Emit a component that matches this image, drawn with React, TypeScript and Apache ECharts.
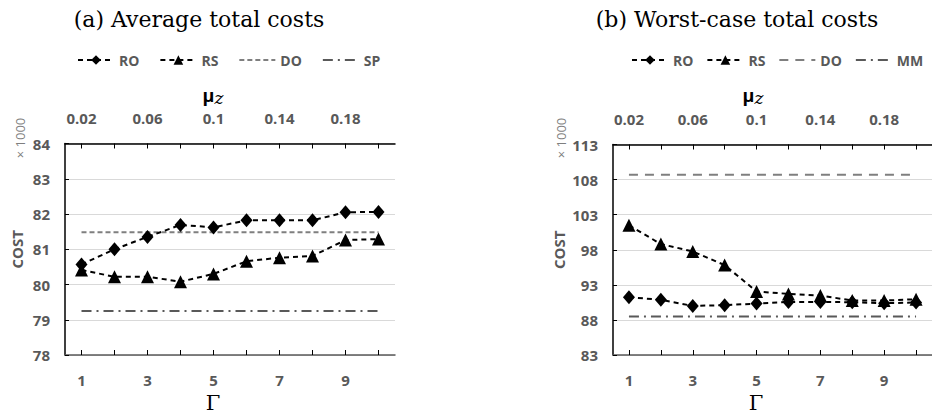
import React, { useEffect, useRef } from 'react';
import * as echarts from 'echarts';

const gammaLabels = ['1', '2', '3', '4', '5', '6', '7', '8', '9', '10'];
const muLabels = ['0.02', '0.04', '0.06', '0.08', '0.1', '0.12', '0.14', '0.16', '0.18', '0.2'];

const avgRO = [80.57, 81.0, 81.35, 81.69, 81.62, 81.82, 81.82, 81.82, 82.05, 82.06];
const avgRS = [80.41, 80.22, 80.22, 80.08, 80.3, 80.66, 80.76, 80.81, 81.26, 81.29];
const avgDO = [81.48, 81.48, 81.48, 81.48, 81.48, 81.48, 81.48, 81.48, 81.48, 81.48];
const avgSP = [79.25, 79.25, 79.25, 79.25, 79.25, 79.25, 79.25, 79.25, 79.25, 79.25];

const worstRO = [91.24, 90.86, 90.0, 90.1, 90.33, 90.57, 90.57, 90.52, 90.38, 90.48];
const worstRS = [101.48, 98.81, 97.76, 95.81, 92.05, 91.71, 91.48, 90.76, 90.76, 90.95];
const worstDO = [108.7, 108.7, 108.7, 108.7, 108.7, 108.7, 108.7, 108.7, 108.7, 108.7];
const worstMM = [88.48, 88.48, 88.48, 88.48, 88.48, 88.48, 88.48, 88.48, 88.48, 88.48];

const GRAY = '#595959';
const SANS = "'Open Sans', 'Noto Sans', sans-serif";
const SERIF = "'DejaVu Serif', serif";

function xAxes(gridIndex: number) {
  const common = {
    type: 'category' as const,
    gridIndex,
    boundaryGap: true,
    axisLine: { show: true, lineStyle: { color: GRAY, width: 1.5 } },
    axisTick: { show: true, inside: true, length: 5, alignWithLabel: true, interval: 0, lineStyle: { color: '#000', width: 1 } },
    axisLabel: { interval: 1, color: GRAY, fontFamily: SANS, fontWeight: 'bold' as const, fontSize: 15, margin: 17 },
    splitLine: { show: false },
  };
  return [
    { ...common, position: 'bottom' as const, data: gammaLabels },
    { ...common, position: 'top' as const, data: muLabels, axisLabel: { ...common.axisLabel, margin: 18 }, axisLine: { show: true, lineStyle: { color: '#000', width: 1.5 } } },
  ];
}

function yAxis(gridIndex: number, min: number, max: number, interval: number, nameGap: number) {
  return {
    type: 'value' as const,
    gridIndex,
    min,
    max,
    interval,
    name: 'COST',
    nameLocation: 'middle' as const,
    nameGap,
    nameTextStyle: { color: GRAY, fontFamily: SANS, fontWeight: 'bold' as const, fontSize: 15 },
    axisLine: { show: true, lineStyle: { color: '#000', width: 1.5 } },
    axisTick: { show: true, inside: true, length: 4, lineStyle: { color: '#000' } },
    axisLabel: { color: GRAY, fontFamily: SANS, fontWeight: 'bold' as const, fontSize: 15, margin: 15 },
    splitLine: { show: true, lineStyle: { color: '#d9d9d9', width: 1 } },
  };
}

function markerSeries(name: string, data: number[], symbol: string, size: number | number[], xAxisIndex: number, yAxisIndex: number) {
  return {
    name,
    type: 'line' as const,
    data,
    xAxisIndex,
    yAxisIndex,
    symbol,
    symbolSize: size,
    showSymbol: true,
    itemStyle: { color: '#000' },
    lineStyle: { color: '#000', width: 2, type: [5, 4] },
    z: 5,
  };
}

function flatSeries(name: string, data: number[], color: string, dash: number[], xAxisIndex: number, yAxisIndex: number) {
  return {
    name,
    type: 'line' as const,
    data,
    xAxisIndex,
    yAxisIndex,
    symbol: 'none',
    itemStyle: { color },
    lineStyle: { color, width: 2, type: dash },
    z: 3,
  };
}

const legendText = { color: GRAY, fontFamily: SANS, fontWeight: 'bold' as const, fontSize: 14 };
const hiddenSymbol = { color: 'rgba(0,0,0,0)', borderColor: 'rgba(0,0,0,0)', borderWidth: 0, opacity: 0 };

export default function App() {
  const ref = useRef<HTMLDivElement>(null);
  useEffect(() => {
    if (!ref.current) return;
    const chart = echarts.init(ref.current, undefined, { renderer: 'svg' });
    const xa0 = xAxes(0);
    const xa1 = xAxes(1);
    const center = { align: 'center', verticalAlign: 'middle', textAlign: 'center', textVerticalAlign: 'middle' };
    chart.setOption({
      animation: false,
      backgroundColor: '#fff',
      grid: [
        { left: 65, top: 143.5, width: 330, height: 211.5, containLabel: false },
        { left: 613, top: 144.5, width: 324, height: 210.5, containLabel: false },
      ],
      xAxis: [xa0[0], xa0[1], xa1[0], xa1[1]],
      yAxis: [yAxis(0, 78, 84, 1, 41), yAxis(1, 83, 113, 5, 47)],
      legend: [
        {
          left: 77,
          top: 53,
          padding: 0,
          width: 340,
          itemWidth: 36,
          itemHeight: 12,
          itemGap: 20,
          textStyle: legendText,
          data: ['RO', 'RS', { name: 'DO', itemStyle: hiddenSymbol }, { name: 'SP', itemStyle: hiddenSymbol }],
          formatter: (n: string) => n,
        },
        {
          left: 631,
          top: 53,
          padding: 0,
          width: 300,
          itemWidth: 36,
          itemHeight: 12,
          itemGap: 13,
          textStyle: legendText,
          data: ['RO ', 'RS ', { name: 'DO ', itemStyle: hiddenSymbol }, { name: 'MM', itemStyle: hiddenSymbol }],
          formatter: (n: string) => n.trim(),
        },
      ],
      series: [
        flatSeries('DO', avgDO, '#7f7f7f', [5, 3], 0, 0),
        flatSeries('SP', avgSP, GRAY, [10, 5, 2, 5], 0, 0),
        markerSeries('RO', avgRO, 'diamond', [12, 14], 0, 0),
        markerSeries('RS', avgRS, 'triangle', 13, 0, 0),
        flatSeries('DO ', worstDO, '#7f7f7f', [9, 7], 2, 1),
        flatSeries('MM', worstMM, GRAY, [10, 5, 2, 5], 2, 1),
        markerSeries('RO ', worstRO, 'diamond', [12, 14], 2, 1),
        markerSeries('RS ', worstRS, 'triangle', 13, 2, 1),
      ],
      graphic: [
        { type: 'text', x: 199, y: 19, style: { text: '(a) Average total costs', font: `22px ${SERIF}`, fill: '#000', ...center } },
        { type: 'text', x: 737, y: 19, style: { text: '(b) Worst-case total costs', font: `22px ${SERIF}`, fill: '#000', ...center } },
        {
          type: 'text', x: 213, y: 95,
          style: {
            text: '{m|μ}{z|z}', ...center,
            rich: { m: { font: `bold 18px ${SANS}`, fill: '#000' }, z: { font: `italic 17px ${SERIF}`, fill: '#000', padding: [6, 0, 0, 0] } },
          },
        },
        {
          type: 'text', x: 753, y: 95,
          style: {
            text: '{m|μ}{z|z}', ...center,
            rich: { m: { font: `bold 18px ${SANS}`, fill: '#000' }, z: { font: `italic 17px ${SERIF}`, fill: '#000', padding: [6, 0, 0, 0] } },
          },
        },
        { type: 'text', x: 213, y: 403, style: { text: 'Γ', font: `21px ${SERIF}`, fill: '#000', ...center } },
        { type: 'text', x: 756, y: 403, style: { text: 'Γ', font: `21px ${SERIF}`, fill: '#000', ...center } },
        { type: 'text', x: 20, y: 138, rotation: Math.PI / 2, style: { text: '× 1000', font: `13px ${SANS}`, fill: '#7f7f7f', ...center } },
        { type: 'text', x: 561, y: 138, rotation: Math.PI / 2, style: { text: '× 1000', font: `13px ${SANS}`, fill: '#7f7f7f', ...center } },
      ],
    });
    return () => chart.dispose();
  }, []);
  return <div ref={ref} style={{ width: 932, height: 415, position: 'absolute', left: 0, top: 0 }} />;
}
